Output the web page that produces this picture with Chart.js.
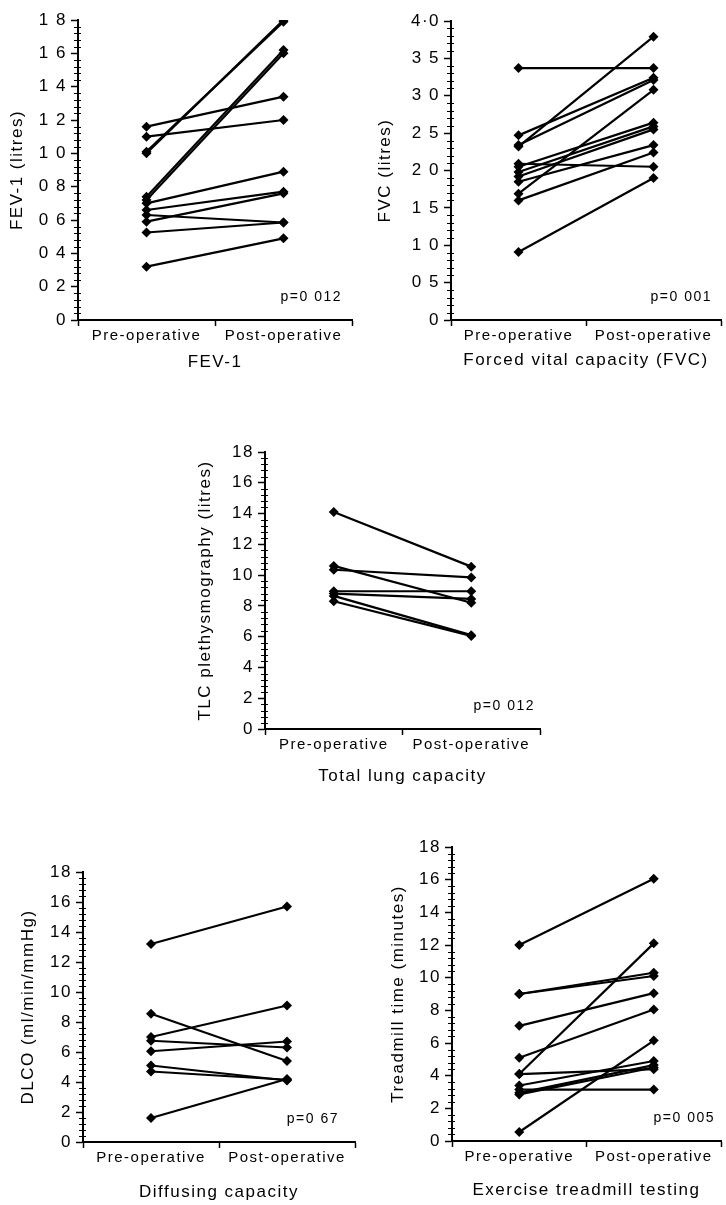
<!DOCTYPE html>
<html>
<head>
<meta charset="utf-8">
<script src="https://cdn.jsdelivr.net/npm/chart.js@4/dist/chart.umd.min.js"></script>
<style>
  body { margin: 0; background: #fff; }
  #wrap { position: relative; width: 726px; height: 1205px; overflow: hidden; background: #fff; }
  canvas { position: absolute; }
</style>
</head>
<body>
<div id="wrap">
  <canvas id="fev" width="360" height="380" style="left:0px;top:0px"></canvas>
  <canvas id="fvc" width="366" height="380" style="left:360px;top:0px"></canvas>
  <canvas id="tlc" width="360" height="420" style="left:190px;top:380px"></canvas>
  <canvas id="dlco" width="360" height="405" style="left:0px;top:800px"></canvas>
  <canvas id="tread" width="366" height="405" style="left:360px;top:800px"></canvas>
</div>
<script>
const categories = ['Pre-operative', 'Post-operative'];

// FEV-1 (litres), one entry per patient
const fevPre  = [1.16, 1.10, 1.00, 1.01, 0.74, 0.72, 0.70, 0.66, 0.63, 0.59, 0.525, 0.32];
const fevPost = [1.34, 1.20, 1.80, 1.79, 1.62, 1.60, 0.89, 0.77, 0.585, 0.76, 0.585, 0.49];
const fevTicks = ['0', '0 2', '0 4', '0 6', '0 8', '1 0', '1 2', '1 4', '1 6', '1 8'];

// FVC (litres)
const fvcPre  = [3.37, 2.47, 2.34, 2.32, 2.09, 2.05, 1.98, 1.92, 1.85, 1.69, 1.60, 0.91];
const fvcPost = [3.37, 3.24, 3.21, 3.79, 2.05, 2.64, 2.59, 2.55, 2.34, 3.08, 2.24, 1.90];
const fvcTicks = ['0', '0 5', '1 0', '1 5', '2 0', '2 5', '3 0', '3 5', '4·0'];

// TLC plethysmography (litres)
const tlcPre  = [14.1, 10.6, 10.35, 8.95, 8.8, 8.65, 8.3];
const tlcPost = [10.55, 8.2, 9.85, 8.95, 8.45, 6.1, 6.05];

// DLCO (ml/min/mmHg)
const dlcoPre  = [13.2, 8.55, 7.0, 6.75, 6.05, 5.1, 4.7, 1.6];
const dlcoPost = [15.7, 5.4, 9.1, 6.3, 6.7, 4.1, 4.15, 4.2];

// treadmill time (minutes)
const tmPre  = [12.0, 9.0, 9.0, 7.05, 5.1, 4.1, 4.1, 3.4, 3.15, 2.95, 2.85, 0.55];
const tmPost = [16.05, 10.3, 10.1, 9.05, 8.05, 12.1, 4.4, 4.9, 3.15, 4.65, 4.5, 6.15];

const evenTicks = ['0', '2', '4', '6', '8', '10', '12', '14', '16', '18'];

const FONT = "'Liberation Sans', Arial, Helvetica, sans-serif";

// minor ticks, p-value text and letter spacing
const extras = {
  id: 'extras',
  beforeUpdate(chart) { chart.ctx.letterSpacing = '1.5px'; },
  beforeDraw(chart) { chart.ctx.letterSpacing = '1.5px'; },
  afterDraw(chart, args, opts) {
    const ctx = chart.ctx;
    const y = chart.scales.y;
    const x0 = chart.chartArea.left;
    ctx.save();
    ctx.strokeStyle = '#000';
    ctx.lineWidth = 1;
    const minor = opts.step / 5;
    const n = Math.round(y.max / minor);
    for (let i = 1; i < n; i++) {
      if (i % 5 === 0) continue;
      const py = Math.round(y.getPixelForValue(i * minor)) + 0.5;
      ctx.beginPath();
      ctx.moveTo(x0 - 4, py);
      ctx.lineTo(x0 + 3, py);
      ctx.stroke();
    }
    ctx.fillStyle = '#000';
    ctx.font = '14px ' + FONT;
    ctx.textAlign = 'right';
    ctx.textBaseline = 'middle';
    ctx.fillText(opts.text, chart.chartArea.right - opts.dx, chart.chartArea.bottom - opts.dy);
    ctx.restore();
  }
};

function makeChart(p) {
  const canvas = document.getElementById(p.id);
  const W = canvas.width, H = canvas.height;
  const datasets = p.pre.map((v, i) => ({
    data: [v, p.post[i]],
    borderColor: '#000',
    backgroundColor: '#000',
    borderWidth: 2.2,
    pointStyle: 'rectRot',
    pointRadius: 5,
    pointHoverRadius: 5,
    pointBorderWidth: 0
  }));
  new Chart(canvas.getContext('2d'), {
    type: 'line',
    data: { labels: categories, datasets: datasets },
    options: {
      responsive: false,
      animation: false,
      events: [],
      layout: { padding: { left: 0, top: p.area.t, right: W - p.area.r, bottom: 0 } },
      scales: {
        x: {
          type: 'category',
          offset: true,
          grid: { offset: true, drawOnChartArea: false, tickLength: 6, color: '#000', tickWidth: 1.5 },
          border: { color: '#000', width: 2 },
          ticks: { color: '#000', font: { family: FONT, size: 15 }, padding: 1, maxRotation: 0, autoSkip: false },
          title: { display: true, text: p.xTitle, color: '#000', font: { family: FONT, size: 17 }, padding: { top: 0, bottom: p.xtPad } },
          afterFit: s => { s.height = H - p.area.b; }
        },
        y: {
          min: 0,
          max: p.max,
          ticks: {
            stepSize: p.step,
            color: '#000',
            font: { family: FONT, size: 17 },
            padding: 4,
            callback: v => p.ticks[Math.round(v / p.step)]
          },
          grid: { drawOnChartArea: false, tickLength: 7, color: '#000', tickWidth: 1.5 },
          border: { color: '#000', width: 2 },
          title: { display: true, text: p.yTitle, color: '#000', font: { family: FONT, size: 17 }, padding: { top: p.ytPad, bottom: 0 } },
          afterFit: s => { s.width = p.area.l; }
        }
      },
      plugins: {
        legend: { display: false },
        tooltip: { enabled: false },
        extras: { text: p.pText, dx: p.pdx, dy: 23, step: p.step }
      }
    },
    plugins: [extras]
  });
}

makeChart({ id: 'fev', pre: fevPre, post: fevPost, ticks: fevTicks, max: 1.8, step: 0.2,
  yTitle: 'FEV-1 (litres)', xTitle: 'FEV-1', pText: 'p=0 012',
  area: { l: 78, t: 20, r: 352, b: 320 }, ytPad: 7, xtPad: 7, pdx: 10 });

makeChart({ id: 'fvc', pre: fvcPre, post: fvcPost, ticks: fvcTicks, max: 4.0, step: 0.5,
  yTitle: 'FVC (litres)', xTitle: 'Forced vital capacity (FVC)', pText: 'p=0 001',
  area: { l: 91, t: 21, r: 366, b: 320 }, ytPad: 15, xtPad: 9, pdx: 9 });

makeChart({ id: 'tlc', pre: tlcPre, post: tlcPost, ticks: evenTicks, max: 18, step: 2,
  yTitle: 'TLC plethysmography (litres)', xTitle: 'Total lung capacity', pText: 'p=0 012',
  area: { l: 75, t: 72, r: 350, b: 349 }, ytPad: 5, xtPad: 13, pdx: 5 });

makeChart({ id: 'dlco', pre: dlcoPre, post: dlcoPost, ticks: evenTicks, max: 18, step: 2,
  yTitle: 'DLCO (ml/min/mmHg)', xTitle: 'Diffusing capacity', pText: 'p=0 67',
  area: { l: 83, t: 72, r: 356, b: 342 }, ytPad: 18, xtPad: 2, pdx: 16 });

makeChart({ id: 'tread', pre: tmPre, post: tmPost, ticks: evenTicks, max: 18, step: 2,
  yTitle: 'Treadmill time (minutes)', xTitle: 'Exercise treadmill testing', pText: 'p=0 005',
  area: { l: 92, t: 47, r: 366, b: 341 }, ytPad: 28, xtPad: 4, pdx: 6 });
</script>
</body>
</html>
